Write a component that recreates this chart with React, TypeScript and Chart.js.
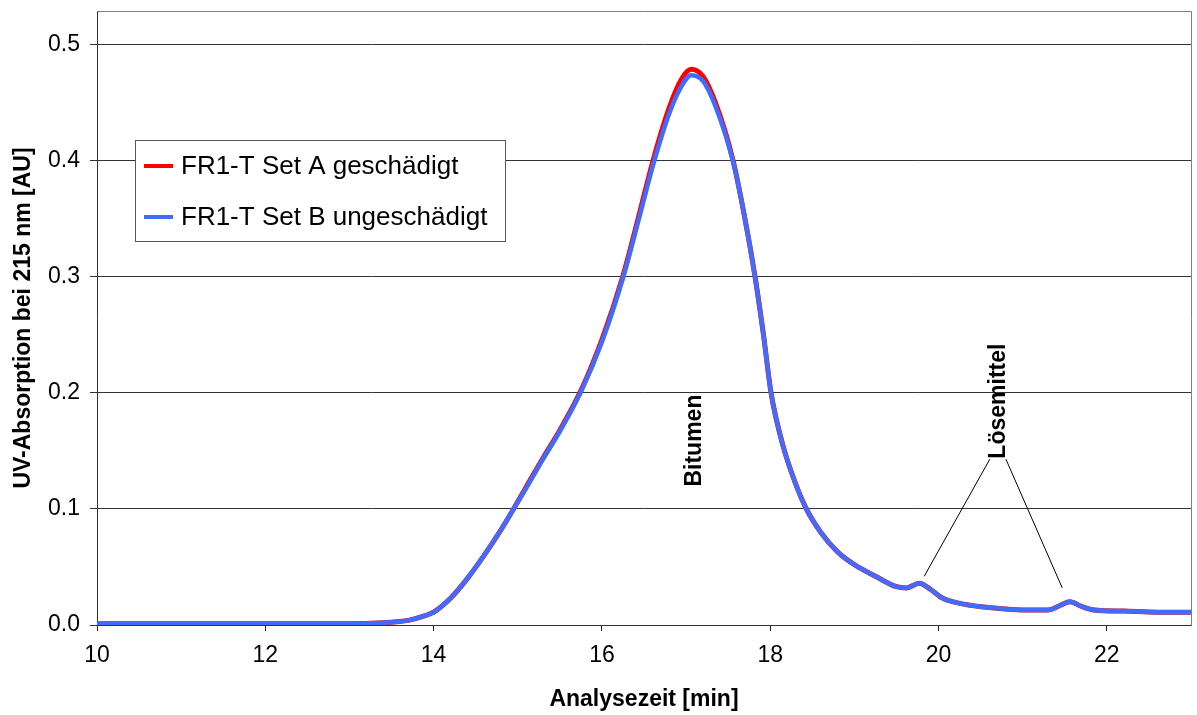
import React, { useEffect, useRef } from "react";
import { Chart, registerables } from "chart.js";
Chart.register(...registerables);

const times = [10, 11, 12, 13, 13.4, 13.7, 13.9, 14.0, 14.2, 14.4, 14.6, 14.8, 14.95, 15.1, 15.3, 15.5, 15.75, 16.0, 16.25, 16.45, 16.61, 16.8, 16.95, 17.06, 17.2, 17.35, 17.56, 17.7, 17.82, 17.92, 18.01, 18.15, 18.3, 18.43, 18.6, 18.8, 19.0, 19.25, 19.5, 19.62, 19.77, 19.9, 20.05, 20.3, 20.6, 21.0, 21.3, 21.45, 21.56, 21.7, 21.85, 22.2, 22.6, 23];
const setA = [0.001, 0.001, 0.001, 0.001, 0.002, 0.004, 0.008, 0.011, 0.023, 0.040, 0.060, 0.082, 0.100, 0.119, 0.144, 0.168, 0.202, 0.246, 0.301, 0.356, 0.401, 0.446, 0.471, 0.479, 0.473, 0.450, 0.400, 0.350, 0.300, 0.250, 0.200, 0.155, 0.122, 0.100, 0.080, 0.063, 0.052, 0.042, 0.033, 0.032, 0.036, 0.031, 0.023, 0.018, 0.015, 0.013, 0.013, 0.017, 0.020, 0.016, 0.013, 0.012, 0.011, 0.011];
const setB = [0.001, 0.001, 0.001, 0.001, 0.002, 0.004, 0.008, 0.011, 0.023, 0.040, 0.060, 0.082, 0.100, 0.118, 0.143, 0.167, 0.201, 0.244, 0.299, 0.353, 0.397, 0.441, 0.465, 0.474, 0.469, 0.447, 0.399, 0.350, 0.300, 0.250, 0.200, 0.155, 0.122, 0.100, 0.080, 0.063, 0.052, 0.042, 0.033, 0.032, 0.036, 0.031, 0.023, 0.018, 0.015, 0.013, 0.013, 0.017, 0.020, 0.016, 0.013, 0.012, 0.011, 0.011];
const seriesLabels = ["FR1-T Set A geschädigt", "FR1-T Set B ungeschädigt"];
const seriesColors = ["#ff0000", "#3f6cff"];
const xTicks = [10, 12, 14, 16, 18, 20, 22];
const yTicks = [0, 0.1, 0.2, 0.3, 0.4, 0.5];
const xTitle = "Analysezeit [min]";
const yTitle = "UV-Absorption bei 215 nm [AU]";
const peakLabels = [
  { text: "Bitumen", x: 17.1, y: 0.159 },
  { text: "Lösemittel", x: 20.72, y: 0.193 },
];
const leaderLines = [
  [20.61, 0.143, 19.83, 0.042],
  [20.80, 0.143, 21.47, 0.032],
];

const FONT = "'Liberation Sans', Arial, Helvetica, sans-serif";

const overlayPlugin = {
  id: "overlay",
  afterDatasetsDraw(chart: any) {
    const { ctx, chartArea, scales } = chart;
    const xs = scales.x, ys = scales.y;
    ctx.save();
    ctx.strokeStyle = "#808080";
    ctx.lineWidth = 1;
    ctx.beginPath();
    ctx.moveTo(Math.round(chartArea.left) + 0.5, Math.round(chartArea.top) + 0.5);
    ctx.lineTo(Math.round(chartArea.right) + 0.5, Math.round(chartArea.top) + 0.5);
    ctx.lineTo(Math.round(chartArea.right) + 0.5, Math.round(chartArea.bottom) + 0.5);
    ctx.stroke();

    ctx.strokeStyle = "#000";
    ctx.lineWidth = 1;
    leaderLines.forEach(([x1, y1, x2, y2]) => {
      ctx.beginPath();
      ctx.moveTo(xs.getPixelForValue(x1), ys.getPixelForValue(y1));
      ctx.lineTo(xs.getPixelForValue(x2), ys.getPixelForValue(y2));
      ctx.stroke();
    });

    ctx.fillStyle = "#000";
    ctx.font = `bold 23px ${FONT}`;
    ctx.textAlign = "center";
    ctx.textBaseline = "middle";
    peakLabels.forEach((l) => {
      ctx.save();
      ctx.translate(xs.getPixelForValue(l.x), ys.getPixelForValue(l.y));
      ctx.rotate(-Math.PI / 2);
      ctx.fillText(l.text, 0, 0);
      ctx.restore();
    });

    const bx = 135.5, by = 140.5, bw = 370, bh = 101;
    ctx.fillStyle = "#fff";
    ctx.fillRect(bx, by, bw, bh);
    ctx.strokeStyle = "#555";
    ctx.lineWidth = 1;
    ctx.strokeRect(bx, by, bw, bh);
    ctx.font = `26px ${FONT}`;
    ctx.textAlign = "left";
    ctx.textBaseline = "middle";
    seriesLabels.forEach((lab, i) => {
      const yy = 166 + i * 51;
      ctx.strokeStyle = seriesColors[i];
      ctx.lineWidth = 4;
      ctx.beginPath();
      ctx.moveTo(144, yy);
      ctx.lineTo(173, yy);
      ctx.stroke();
      ctx.fillStyle = "#000";
      ctx.fillText(lab, 181, yy + 1);
    });
    ctx.restore();
  },
};

export default function App() {
  const ref = useRef<HTMLCanvasElement | null>(null);
  useEffect(() => {
    document.body.style.margin = "0";
    const canvas = ref.current!;
    const chart = new Chart(canvas, {
      type: "line",
      data: {
        datasets: [
          {
            label: seriesLabels[0],
            data: times.map((t, i) => ({ x: t, y: setA[i] })),
            borderColor: seriesColors[0],
            borderWidth: 5,
            pointRadius: 0,
            cubicInterpolationMode: "monotone",
            order: 1,
          },
          {
            label: seriesLabels[1],
            data: times.map((t, i) => ({ x: t, y: setB[i] })),
            borderColor: seriesColors[1],
            borderWidth: 4.5,
            pointRadius: 0,
            cubicInterpolationMode: "monotone",
            order: 0,
          },
        ],
      },
      options: {
        responsive: false,
        animation: false,
        devicePixelRatio: 1,
        layout: { padding: { top: 11, right: 6, left: 0, bottom: 0 } },
        plugins: { legend: { display: false }, tooltip: { enabled: false } },
        scales: {
          x: {
            type: "linear",
            min: 10,
            max: 23,
            afterBuildTicks: (s: any) => {
              s.ticks = xTicks.map((v) => ({ value: v }));
            },
            afterFit: (s: any) => {
              s.height = 90;
              s.paddingLeft = 0;
              s.paddingRight = 0;
            },
            ticks: {
              font: { family: FONT, size: 23 },
              color: "#000",
              padding: 11,
              maxRotation: 0,
              autoSkip: false,
            },
            grid: { drawOnChartArea: false, drawTicks: true, tickLength: 6, color: "#222" },
            border: { display: true, color: "#333", width: 1 },
            title: {
              display: true,
              text: xTitle,
              color: "#000",
              font: { family: FONT, size: 23, weight: "bold" },
              padding: { top: 0, bottom: 2 },
            },
          },
          y: {
            type: "linear",
            min: 0,
            max: 0.5293,
            afterBuildTicks: (s: any) => {
              s.ticks = yTicks.map((v) => ({ value: v }));
            },
            afterFit: (s: any) => {
              s.width = 97;
              s.paddingTop = 0;
              s.paddingBottom = 0;
            },
            ticks: {
              font: { family: FONT, size: 23 },
              color: "#000",
              padding: 10,
              callback: (v: any) => Number(v).toFixed(1),
            },
            grid: { drawTicks: true, tickLength: 7, color: "#333" },
            border: { display: true, color: "#333", width: 1 },
            title: {
              display: true,
              text: yTitle,
              color: "#000",
              font: { family: FONT, size: 23, weight: "bold" },
              padding: { top: 10, bottom: 0 },
            },
          },
        },
      },
      plugins: [overlayPlugin],
    } as any);
    return () => chart.destroy();
  }, []);
  return (
    <div style={{ position: "absolute", left: 0, top: 0, width: 1197, height: 715 }}>
      <canvas ref={ref} width={1197} height={715} style={{ width: 1197, height: 715, display: "block" }} />
    </div>
  );
}
